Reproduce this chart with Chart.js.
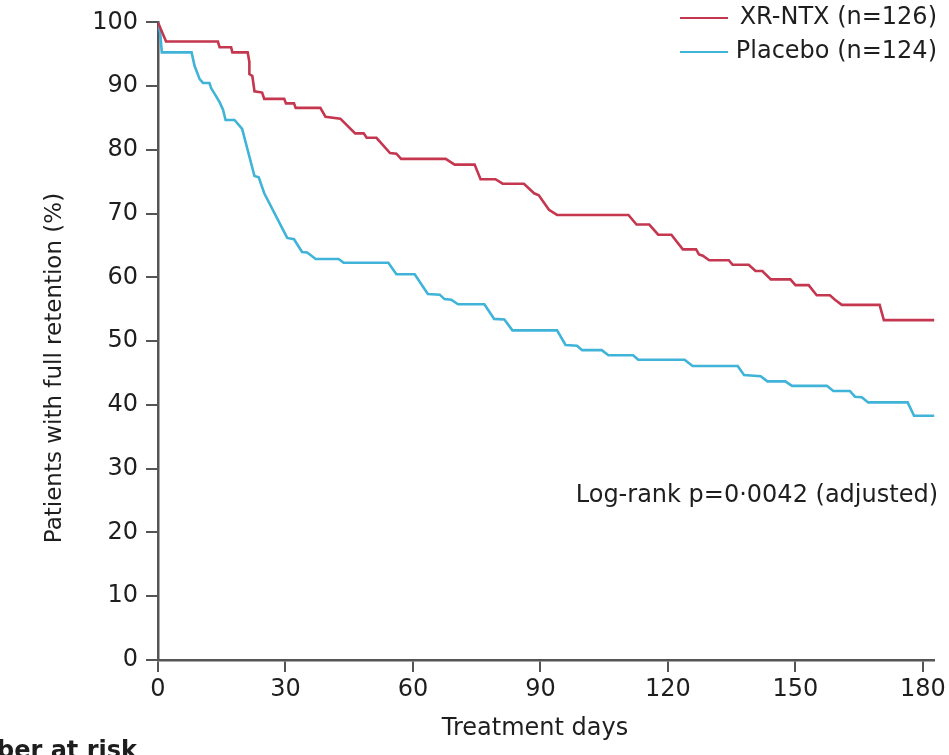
<!DOCTYPE html>
<html>
<head>
<meta charset="utf-8">
<script src="https://cdn.jsdelivr.net/npm/chart.js@4"></script>
<style>
  body { margin: 0; background: #fff; }
  #wrap { width: 949px; height: 755px; }
</style>
</head>
<body>
<div id="wrap"><canvas id="km" width="949" height="755"></canvas></div>
<script>
// Kaplan-Meier style retention curves
const xrDays = [0, 0.5, 1, 1.9, 14.1, 14.5, 17.2, 17.5, 21.1, 21.5, 21.5, 22.2, 22.7, 24.5, 25.0, 29.7, 30.1, 32.0, 32.4, 38.2, 39.4, 42.9, 46.4, 48.4, 49.1, 51.4, 54.6, 56.1, 57.2, 67.7, 69.8, 74.5, 75.9, 79.4, 81.1, 86.1, 88.5, 89.6, 92.0, 93.9, 110.7, 112.6, 115.6, 117.7, 120.8, 123.5, 126.6, 127.3, 128.2, 129.7, 134.3, 135.2, 139.0, 140.6, 142.2, 144.2, 148.8, 150.0, 153.1, 155.0, 158.1, 159.3, 160.9, 169.8, 170.8, 182.7];
const xrPct = [100, 99.2, 98.4, 97.0, 97.0, 96.1, 96.1, 95.3, 95.3, 93.8, 91.9, 91.6, 89.2, 89.0, 88.0, 88.0, 87.3, 87.3, 86.6, 86.6, 85.2, 84.9, 82.6, 82.6, 81.9, 81.9, 79.5, 79.4, 78.6, 78.6, 77.7, 77.7, 75.4, 75.4, 74.7, 74.7, 73.2, 72.9, 70.6, 69.8, 69.8, 68.3, 68.3, 66.7, 66.7, 64.4, 64.4, 63.6, 63.4, 62.7, 62.7, 62.0, 62.0, 61.0, 61.0, 59.7, 59.7, 58.8, 58.8, 57.2, 57.2, 56.5, 55.7, 55.7, 53.3, 53.3];

const pbDays = [0, 0.5, 0.9, 7.9, 8.6, 9.8, 10.6, 12.1, 12.5, 14.5, 15.3, 15.9, 18.0, 19.8, 22.7, 23.7, 25.0, 30.4, 32.0, 33.9, 35.1, 37.1, 42.5, 43.7, 54.2, 56.1, 60.4, 63.5, 66.3, 67.4, 69.0, 70.6, 76.8, 79.1, 81.5, 83.4, 93.9, 95.9, 98.6, 99.8, 104.4, 106.0, 111.8, 113.0, 123.9, 125.8, 136.4, 137.9, 141.8, 143.4, 147.6, 149.2, 157.4, 158.9, 162.8, 164.0, 165.6, 167.1, 176.4, 177.9, 182.7];
const pbPct = [100, 98.4, 95.3, 95.3, 93.2, 91.1, 90.5, 90.5, 89.7, 87.5, 86.3, 84.7, 84.7, 83.3, 75.9, 75.7, 73.2, 66.2, 66.0, 64.0, 63.9, 62.9, 62.9, 62.3, 62.3, 60.5, 60.5, 57.4, 57.3, 56.6, 56.5, 55.8, 55.8, 53.5, 53.4, 51.7, 51.7, 49.4, 49.3, 48.6, 48.6, 47.8, 47.8, 47.1, 47.1, 46.1, 46.1, 44.7, 44.5, 43.7, 43.7, 43.0, 43.0, 42.2, 42.2, 41.3, 41.2, 40.4, 40.4, 38.3, 38.3];

const seriesNames = ['XR-NTX (n=126)', 'Placebo (n=124)'];
const xTicks = [0, 30, 60, 90, 120, 150, 180];
const yTicks = [0, 10, 20, 30, 40, 50, 60, 70, 80, 90, 100];

const RED = '#c5364f';
const BLUE = '#40b3d8';
const AXIS = '#555555';
const TEXT = '#1e1e1e';
const FONT = "'DejaVu Sans', sans-serif";

function toPoints(xs, ys) {
  return xs.map((d, i) => ({ x: d, y: ys[i] }));
}

// extra text: legend, axis titles, p value, clipped "Number at risk"
const extras = {
  id: 'extras',
  afterDraw(chart) {
    const ctx = chart.ctx;
    ctx.save();
    ctx.fillStyle = TEXT;
    ctx.font = '24px ' + FONT;
    ctx.textBaseline = 'middle';

    // legend
    const rows = [[RED, 18], [BLUE, 52]];
    rows.forEach((r, i) => {
      ctx.strokeStyle = r[0];
      ctx.lineWidth = 2;
      ctx.beginPath();
      ctx.moveTo(680, r[1]);
      ctx.lineTo(728, r[1]);
      ctx.stroke();
      ctx.textAlign = 'right';
      ctx.fillText(seriesNames[i], 937, r[1]);
    });

    ctx.textAlign = 'right';
    ctx.fillText('Log-rank p=0\u00b70042 (adjusted)', 938, 496);

    ctx.textAlign = 'center';
    ctx.fillText('Treatment days', 535, 729);

    ctx.font = '23px ' + FONT;
    ctx.save();
    ctx.translate(55, 368);
    ctx.rotate(-Math.PI / 2);
    ctx.fillText('Patients with full retention (%)', 0, 0);
    ctx.restore();

    // only the tail of this label is inside the picture
    ctx.font = 'bold 24px ' + FONT;
    ctx.textAlign = 'right';
    ctx.textBaseline = 'alphabetic';
    ctx.fillText('Number at risk', 137, 758);
    ctx.restore();
  }
};

new Chart(document.getElementById('km'), {
  type: 'line',
  data: {
    datasets: [
      {
        label: seriesNames[0],
        data: toPoints(xrDays, xrPct),
        borderColor: RED,
        borderWidth: 2.6,
        pointRadius: 0,
        tension: 0,
        fill: false
      },
      {
        label: seriesNames[1],
        data: toPoints(pbDays, pbPct),
        borderColor: BLUE,
        borderWidth: 2.6,
        pointRadius: 0,
        tension: 0,
        fill: false
      }
    ]
  },
  options: {
    responsive: false,
    animation: false,
    layout: { padding: { top: 18, right: 9, left: 0, bottom: 0 } },
    plugins: {
      legend: { display: false },
      tooltip: { enabled: false }
    },
    scales: {
      x: {
        type: 'linear',
        min: 0,
        max: 182.7,
        afterBuildTicks: s => { s.ticks = xTicks.map(v => ({ value: v })); },
        afterFit: s => { s.height = 95; },
        grid: { drawOnChartArea: false, drawTicks: true, tickLength: 12, color: AXIS, lineWidth: 2 },
        border: { display: true, color: AXIS, width: 2.5 },
        ticks: { color: TEXT, padding: 3, maxRotation: 0, font: { family: FONT, size: 24 } }
      },
      y: {
        min: 0,
        max: 100,
        afterBuildTicks: s => { s.ticks = yTicks.map(v => ({ value: v })); },
        afterFit: s => { s.width = 158; },
        grid: { drawOnChartArea: false, drawTicks: true, tickLength: 12, color: AXIS, lineWidth: 2 },
        border: { display: true, color: AXIS, width: 2.5 },
        ticks: { color: TEXT, padding: 8, font: { family: FONT, size: 24 } }
      }
    }
  },
  plugins: [extras]
});
</script>
</body>
</html>
